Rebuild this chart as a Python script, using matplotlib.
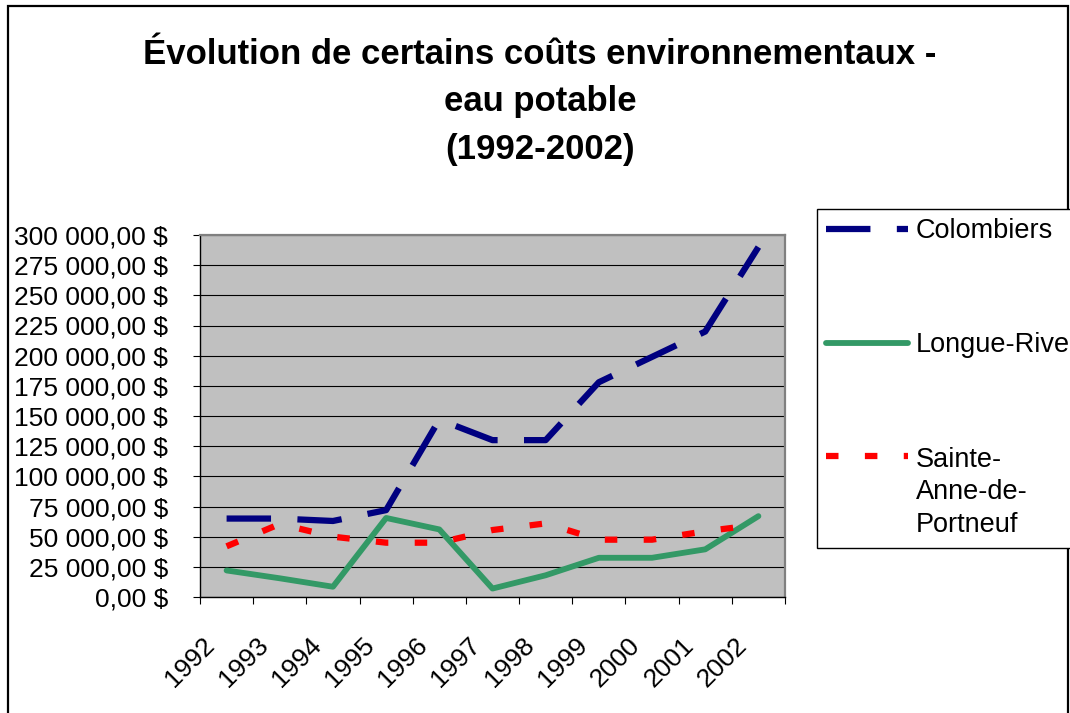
# Evolution of environmental costs - drinking water (1992-2002)
import matplotlib
matplotlib.use("Agg")
import numpy as np
import matplotlib.pyplot as plt
import matplotlib.patches as patches
import matplotlib.transforms as mtransforms
from matplotlib.legend_handler import HandlerLine2D
from matplotlib.ticker import FixedLocator, FuncFormatter

# Data
years = ["1992", "1993", "1994", "1995", "1996", "1997", "1998", "1999", "2000", "2001", "2002"]
colombiers = [65000, 65000, 63000, 72000, 147000, 130000, 130000, 178000, 199000, 220000, 290000]
longue_rive = [22000, 15500, 8500, 65500, 56000, 7000, 18000, 32500, 32500, 39500, 67000]
sainte_anne = [42000, 60500, 50000, 45000, 45000, 55500, 61000, 47500, 47500, 54500, 60000]

title = "Évolution de certains coûts environnementaux -\neau potable\n(1992-2002)"

plt.rcParams["font.family"] = ["Liberation Sans", "DejaVu Sans"]
plt.rcParams["lines.scale_dashes"] = False


# legend handle lifted to the first line of a multi-line label
class TopLineHandler(HandlerLine2D):
    def __init__(self, lift, **kw):
        super().__init__(**kw)
        self.lift = lift

    def create_artists(self, legend, orig_handle, xdescent, ydescent,
                       width, height, fontsize, trans):
        arts = super().create_artists(legend, orig_handle, xdescent, ydescent,
                                      width, height, fontsize, trans)
        for a in arts:
            a.set_ydata(np.asarray(a.get_ydata()) + self.lift)
        return arts


W, H = 1070, 713
fig = plt.figure(figsize=(W / 100, H / 100), dpi=100)
ax = fig.add_axes([200 / W, 1 - 597 / H, 585 / W, 362 / H])
ax.set_facecolor("#C0C0C0")

x = list(range(len(years)))
l1, = ax.plot(x, colombiers, color="#000080", lw=4.5, dashes=(32, 19),
              dash_capstyle="butt", label="Colombiers")
l2, = ax.plot(x, longue_rive, color="#339966", lw=4.2, solid_capstyle="round",
              solid_joinstyle="round", label="Longue-Rive")
l3, = ax.plot(x, sainte_anne, color="#FF0000", lw=4.5, dashes=(9, 19),
              dash_capstyle="butt", label="Sainte-\nAnne-de-\nPortneuf")

# y axis
ax.set_ylim(0, 300000)
ax.set_yticks(range(0, 300001, 25000))
ax.yaxis.set_major_formatter(FuncFormatter(
    lambda v, p: f"{int(v):,}".replace(",", " ") + ",00 $"))
ax.grid(axis="y", color="black", lw=0.8)
ax.set_axisbelow(True)
ax.tick_params(axis="y", direction="out", length=5, width=0.8, pad=18, labelsize=19)

# x axis: ticks between categories, labels at centres
ax.set_xlim(-0.5, len(years) - 0.5)
ax.xaxis.set_major_locator(FixedLocator([i - 0.5 for i in range(len(years) + 1)]))
ax.xaxis.set_major_formatter(FuncFormatter(lambda v, p: ""))
ax.set_xticks(x, minor=True)
ax.set_xticklabels(years, minor=True, rotation=45, ha="right", va="top")
ax.tick_params(axis="x", which="major", direction="out", length=5, width=0.8)
ax.tick_params(axis="x", which="minor", length=0, pad=26, labelsize=19)
shift = mtransforms.ScaledTranslation(-0.07, 0, fig.dpi_scale_trans)
for lab in ax.get_xticklabels(minor=True):
    lab.set_transform(lab.get_transform() + shift)

for side in ["left", "bottom"]:
    ax.spines[side].set_color("black")
    ax.spines[side].set_linewidth(1.0)
for side in ["top", "right"]:
    ax.spines[side].set_color("#808080")
    ax.spines[side].set_linewidth(1.6)

# title
fig.text(540 / W, 1 - 38 / H, title, ha="center", va="top", fontsize=25,
         fontweight="bold", linespacing=1.55)

# legend
leg = fig.legend(handles=[l1, l2, l3], loc="upper left",
                 bbox_to_anchor=(817 / W, 1 - 209 / H), borderaxespad=0,
                 fontsize=19.5, handlelength=3.0, handletextpad=0.3,
                 labelspacing=3.25, borderpad=0.35, fancybox=False,
                 edgecolor="black", framealpha=1,
                 handler_map={l3: TopLineHandler(lift=26.5)})
leg.get_frame().set_linewidth(1.0)
leg.get_texts()[2].set_linespacing(1.34)

# chart area border
fig.patches.append(patches.Rectangle((8 / W, -0.05), 1060 / W, 1 - 6 / H + 0.05,
                                     transform=fig.transFigure, fill=False,
                                     edgecolor="black", lw=1.6))

fig.savefig("out.png", dpi=100)
